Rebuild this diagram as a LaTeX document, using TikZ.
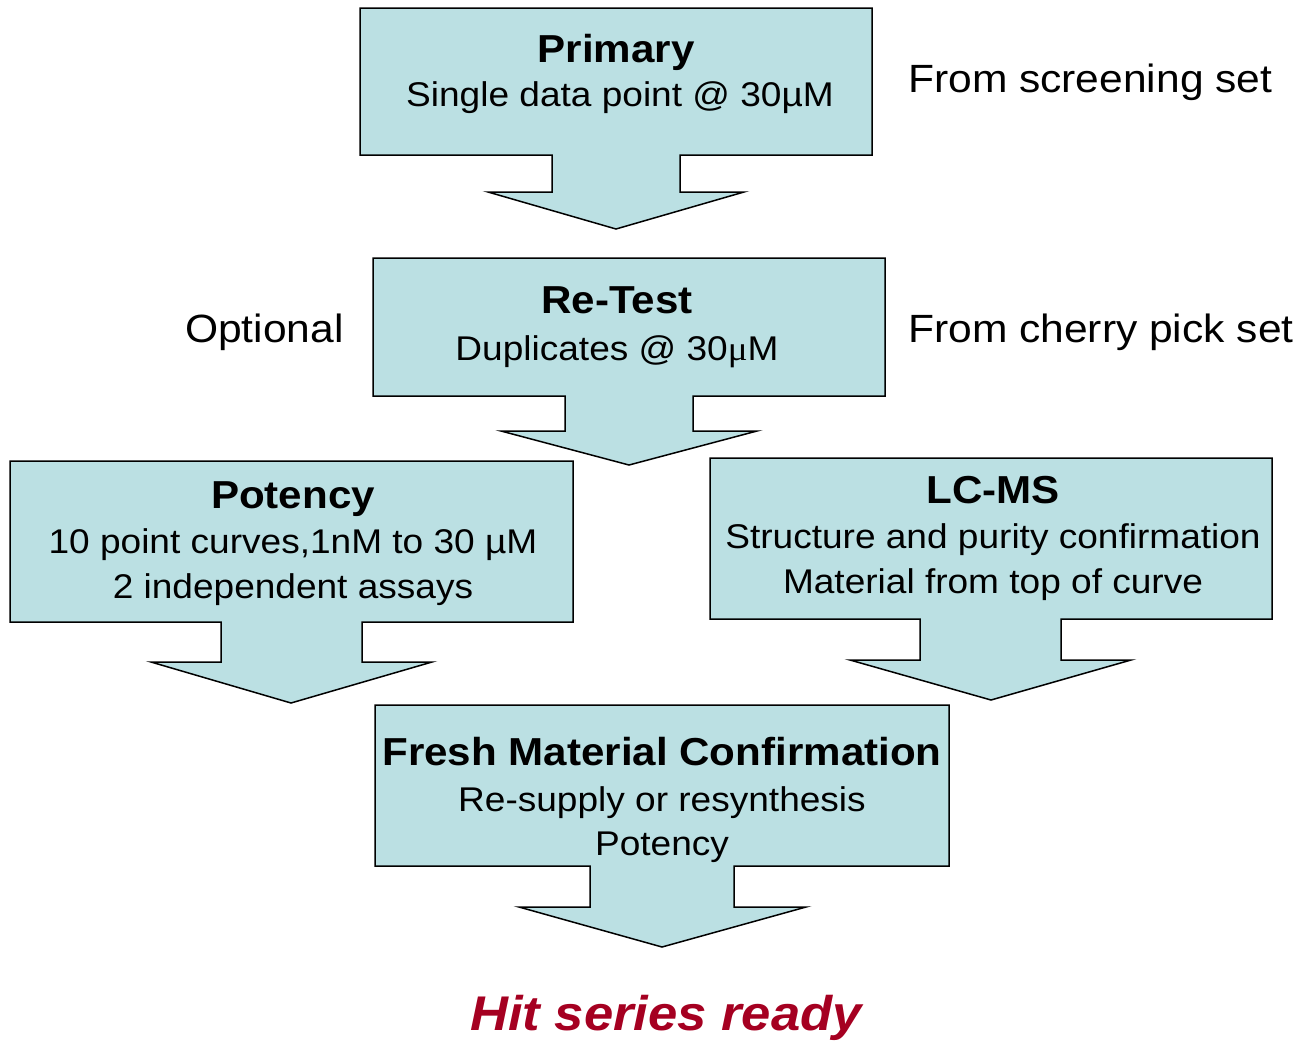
\documentclass[tikz,border=0pt]{standalone}
\usepackage{fontspec}
\setmainfont{Liberation Sans}[FakeStretch=1.08]
\newfontfamily\mufont{Liberation Serif}[FakeStretch=1.08]
\definecolor{boxfill}{RGB}{187,224,227}
\definecolor{hitred}{RGB}{165,0,33}
\tikzset{
  calloutbox/.style={draw=black, fill=boxfill, line width=1.5pt, line join=miter},
  ttl/.style={anchor=base, inner sep=0pt, font=\bfseries\fontsize{39}{44}\selectfont},
  bodytxt/.style={anchor=base, inner sep=0pt, font=\fontsize{34.3}{40}\selectfont},
  sidetxt/.style={anchor=base west, inner sep=0pt, font=\fontsize{39.4}{44}\selectfont},
  hittxt/.style={anchor=base, inner sep=0pt, text=hitred, font=\bfseries\itshape\fontsize{48.7}{54}\selectfont}
}
\begin{document}
\begin{tikzpicture}[x=1pt,y=-1pt]
\useasboundingbox (0,0) rectangle (1301,1042);
% Primary
\draw[calloutbox] (360,8) -- (872,8) -- (872,155) -- (680,155) -- (680,192) -- (744,192) -- (616,229) -- (488,192) -- (552,192) -- (552,155) -- (360,155) -- cycle;
% Re-Test
\draw[calloutbox] (373,258) -- (885,258) -- (885,396) -- (693,396) -- (693,431) -- (757,431) -- (629,465) -- (501,431) -- (565,431) -- (565,396) -- (373,396) -- cycle;
% Potency
\draw[calloutbox] (10,461) -- (573,461) -- (573,622) -- (362,622) -- (362,662) -- (432,662) -- (291,703) -- (151,662) -- (221,662) -- (221,622) -- (10,622) -- cycle;
% LC-MS
\draw[calloutbox] (710,458) -- (1272,458) -- (1272,619) -- (1061,619) -- (1061,660) -- (1131,660) -- (991,700) -- (850,660) -- (920,660) -- (920,619) -- (710,619) -- cycle;
% Fresh
\draw[calloutbox] (375,705) -- (949,705) -- (949,866) -- (734,866) -- (734,907) -- (806,907) -- (662,947) -- (519,907) -- (590,907) -- (590,866) -- (375,866) -- cycle;

\node[ttl] (primT) at (616,62) {Primary};
\node[bodytxt] (primB) at (620,106) {Single data point @ 30µM};

\node[ttl] (retT) at (617,313) {Re-Test};
\node[bodytxt] (retB) at (617,360) {Duplicates @ 30{\mufont μ}M};

\node[ttl] (potT) at (293,508) {Potency};
\node[bodytxt] (potB1) at (293,553) {10 point curves,1nM to 30 µM};
\node[bodytxt] (potB2) at (293,598) {2 independent assays};

\node[ttl] (lcT) at (993,503) {LC-MS};
\node[bodytxt] (lcB1) at (993,548) {Structure and purity confirmation};
\node[bodytxt] (lcB2) at (993,593) {Material from top of curve};

\node[ttl] (frT) at (662,765) {Fresh Material Confirmation};
\node[bodytxt] (frB1) at (662,811) {Re-supply or resynthesis};
\node[bodytxt] (frB2) at (662,855) {Potency};

\node[sidetxt] (screen) at (908,92) {From screening set};
\node[sidetxt] (cherry) at (908,342) {From cherry pick set};
\node[sidetxt] (optional) at (185,342) {Optional};

\node[hittxt] (hit) at (666,1030) {Hit series ready};
\end{tikzpicture}
\end{document}
